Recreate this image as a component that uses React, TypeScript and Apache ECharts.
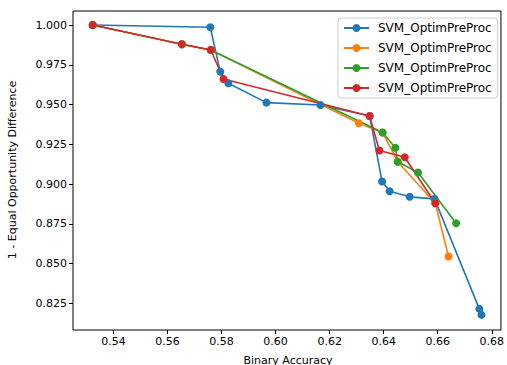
import React, { useEffect, useRef } from "react";
import * as echarts from "echarts";

// Fairness / accuracy trade-off of four SVM_OptimPreProc runs
const LABEL = "SVM_OptimPreProc";
const COLORS = ["#1f77b4", "#ff7f0e", "#2ca02c", "#d62728"];
const FONT = "DejaVu Sans";

// Run 1 (blue)
const run1Acc = [0.5323, 0.5758, 0.5795, 0.5825, 0.5966, 0.6166, 0.6348, 0.6394, 0.6422, 0.6496, 0.6588, 0.6754, 0.6762];
const run1Eod = [1.0, 0.9986, 0.9707, 0.9634, 0.9512, 0.9497, 0.9428, 0.9016, 0.8955, 0.892, 0.8907, 0.8216, 0.8178];

// Run 2 (orange)
const run2Acc = [0.5323, 0.5653, 0.576, 0.6308, 0.6396, 0.6452, 0.6591, 0.664];
const run2Eod = [1.0, 0.9879, 0.9843, 0.9383, 0.9324, 0.9141, 0.888, 0.8545];

// Run 3 (green)
const run3Acc = [0.5323, 0.5653, 0.576, 0.6396, 0.6443, 0.6452, 0.6527, 0.6668];
const run3Eod = [1.0, 0.9879, 0.9843, 0.9324, 0.9229, 0.9141, 0.9073, 0.8754];

// Run 4 (red)
const run4Acc = [0.5323, 0.5653, 0.576, 0.5807, 0.6348, 0.6384, 0.6478, 0.6591];
const run4Eod = [1.0, 0.9879, 0.9843, 0.9661, 0.9428, 0.9211, 0.9169, 0.888];

const xTicks = [0.54, 0.56, 0.58, 0.6, 0.62, 0.64, 0.66, 0.68];
const yTicks = [0.825, 0.85, 0.875, 0.9, 0.925, 0.95, 0.975, 1.0];

const runs = [
  [run1Acc, run1Eod],
  [run2Acc, run2Eod],
  [run3Acc, run3Eod],
  [run4Acc, run4Eod],
];

export default function App() {
  const ref = useRef<HTMLDivElement>(null);

  useEffect(() => {
    if (!ref.current) return;
    const chart = echarts.init(ref.current, null, { renderer: "svg" });

    const seriesNames = runs.map((_, i) => `${LABEL}#${i + 1}`);

    const tickText = { fontFamily: FONT, fontSize: 11, color: "#000" };

    chart.setOption({
      animation: false,
      backgroundColor: "#fff",
      grid: {
        left: 73,
        right: 4,
        top: 11,
        bottom: 35,
        show: true,
        borderColor: "#000",
        borderWidth: 1,
        backgroundColor: "transparent",
      },
      xAxis: {
        type: "value",
        min: 0.525,
        max: 0.6834,
        axisLine: { show: false },
        splitLine: { show: false },
        axisTick: {
          show: true,
          length: 4,
          customValues: xTicks,
          lineStyle: { color: "#000", width: 1 },
        },
        axisLabel: {
          ...tickText,
          margin: 6,
          customValues: xTicks,
          formatter: (v: number) => v.toFixed(2),
        },
      },
      yAxis: {
        type: "value",
        min: 0.8083,
        max: 1.0088,
        axisLine: { show: false },
        splitLine: { show: false },
        axisTick: {
          show: true,
          length: 4,
          customValues: yTicks,
          lineStyle: { color: "#000", width: 1 },
        },
        axisLabel: {
          ...tickText,
          margin: 6,
          customValues: yTicks,
          formatter: (v: number) => v.toFixed(3),
        },
      },
      legend: {
        show: true,
        orient: "vertical",
        left: 338,
        top: 18,
        padding: [4, 6, 4, 5],
        itemWidth: 25,
        itemHeight: 10,
        itemGap: 8,
        borderColor: "#ccc",
        borderWidth: 1,
        borderRadius: 3,
        backgroundColor: "rgba(255,255,255,0.8)",
        data: seriesNames,
        formatter: () => LABEL,
        textStyle: { fontFamily: FONT, fontSize: 12, color: "#000", padding: [0, 0, 0, 4] },
      },
      graphic: [
        {
          type: "text",
          x: 288,
          y: 360,
          style: {
            text: "Binary Accuracy",
            fontFamily: FONT,
            fontSize: 11,
            fill: "#000",
            align: "center",
            verticalAlign: "middle",
          },
        },
        {
          type: "text",
          x: 12,
          y: 170,
          rotation: Math.PI / 2,
          style: {
            text: "1 - Equal Opportunity Difference",
            fontFamily: FONT,
            fontSize: 11,
            fill: "#000",
            align: "center",
            verticalAlign: "middle",
          },
        },
      ],
      series: runs.map(([acc, eod], i) => ({
        name: seriesNames[i],
        type: "line",
        data: acc.map((a, j) => [a, eod[j]]),
        symbol: "circle",
        symbolSize: 8,
        showSymbol: true,
        color: COLORS[i],
        lineStyle: { width: 1.6, color: COLORS[i] },
        itemStyle: { color: COLORS[i] },
        emphasis: { disabled: true },
        silent: true,
      })),
    });

    return () => chart.dispose();
  }, []);

  return (
    <div
      ref={ref}
      style={{ position: "fixed", left: 0, top: 0, width: 507, height: 365 }}
    />
  );
}
